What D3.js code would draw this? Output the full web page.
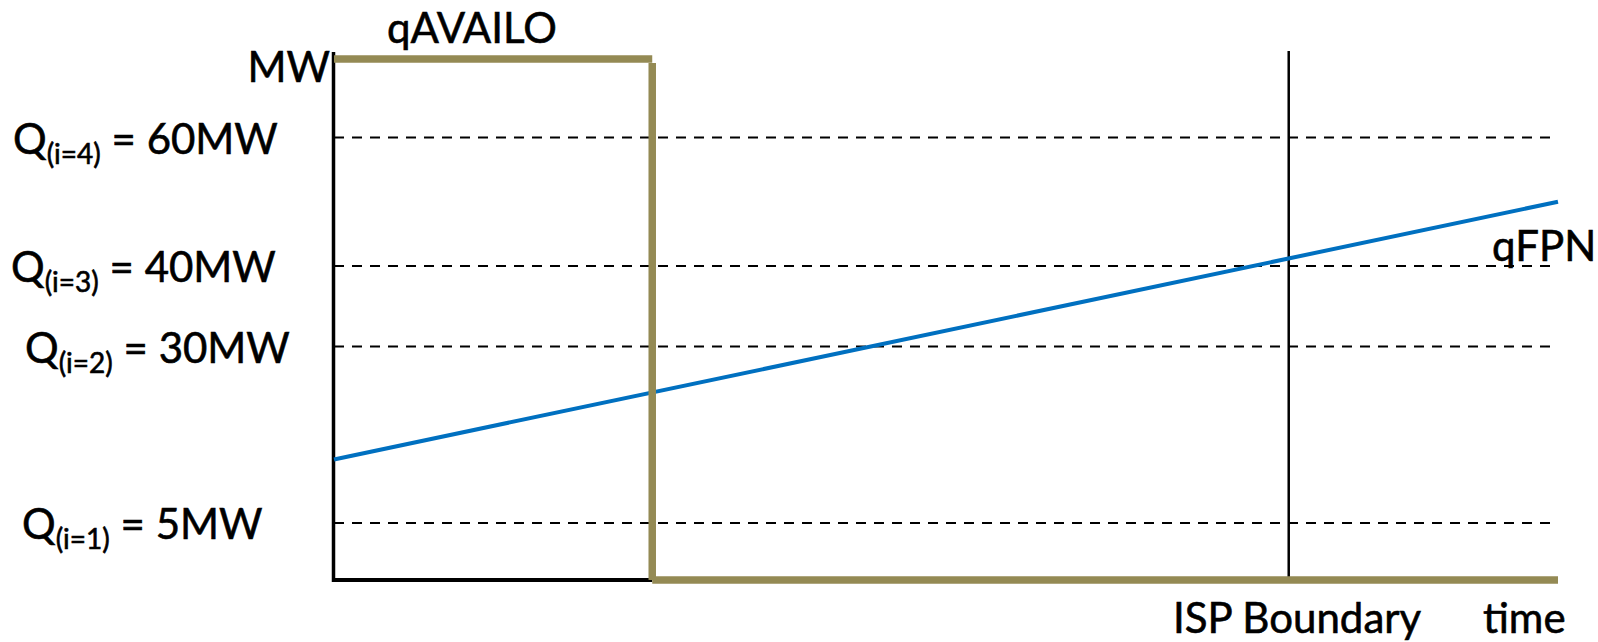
<!DOCTYPE html>
<html>
<head>
<meta charset="utf-8">
<script src="https://cdn.jsdelivr.net/npm/d3@7"></script>
<style>
  html, body { margin: 0; padding: 0; background: #fff; }
  svg { display: block; }
  text { font-family: Lato, "Open Sans", sans-serif; fill: #000; stroke: #000; stroke-width: 0.6px; }
</style>
</head>
<body>
<svg id="chart" width="1598" height="642"></svg>
<script>
// ---- data ----
const levelIndex = [4, 3, 2, 1];
const levelValues = [60, 40, 30, 5];          // MW
const levelLabelsMain = ["Q", "Q", "Q", "Q"];
const qFPNTime = [0, 100];
const qFPNValues = [14, 50];                  // MW
const qAvailTime = [0, 26, 26, 100];
const qAvailValues = [70, 70, 0, 0];          // MW (schematic)
const ispBoundaryTime = 78;
const timeDomain = [0, 100];

// ---- layout ----
const svg = d3.select("#chart");
const x = d3.scaleLinear().domain(timeDomain).range([334, 1558]);
// schematic (non-proportional) MW axis
const y = d3.scaleLinear()
  .domain([0, 5, 30, 40, 60, 70])
  .range([580, 523, 346.5, 266, 137.5, 59]);

const olive = "#948A54", blue = "#0070C0";

// dashed level lines
svg.append("g").selectAll("line").data(levelValues).join("line")
  .attr("x1", x(0)).attr("x2", x(100))
  .attr("y1", d => y(d)).attr("y2", d => y(d))
  .attr("stroke", "#000").attr("stroke-width", 2.2)
  .attr("stroke-dasharray", "10,8");

// ISP boundary
svg.append("line")
  .attr("x1", x(ispBoundaryTime)).attr("x2", x(ispBoundaryTime))
  .attr("y1", 51).attr("y2", y(0))
  .attr("stroke", "#000").attr("stroke-width", 2.5);

// axes (black)
svg.append("line")
  .attr("x1", x(0) - 0.5).attr("x2", x(0) - 0.5)
  .attr("y1", 52).attr("y2", y(0) + 2)
  .attr("stroke", "#000").attr("stroke-width", 3.5);
svg.append("line")
  .attr("x1", x(0) - 2).attr("x2", x(26))
  .attr("y1", y(0)).attr("y2", y(0))
  .attr("stroke", "#000").attr("stroke-width", 4);

// qFPN line
const fpn = qFPNTime.map((t, i) => [t, qFPNValues[i]]);
svg.append("path")
  .attr("d", d3.line().x(d => x(d[0])).y(d => y(d[1]))(fpn))
  .attr("fill", "none").attr("stroke", blue).attr("stroke-width", 4);

// qAVAILO step, drawn as separate segments (as in the original drawing)
const avail = qAvailTime.map((t, i) => [t, qAvailValues[i]]);
const segs = d3.pairs(avail);
svg.append("g").selectAll("line").data(segs).join("line")
  .attr("x1", d => x(d[0][0]))
  .attr("y1", d => d[0][0] === d[1][0] ? y(d[0][1]) + 4 : y(d[0][1]))
  .attr("x2", d => x(d[1][0]))
  .attr("y2", d => d[0][0] === d[1][0] ? y(d[1][1]) : y(d[1][1]))
  .attr("transform", d => d[0][0] === d[1][0] ? "translate(0,0)" : null)
  .attr("stroke", olive).attr("stroke-width", 7.5)
  .attr("stroke-linecap", "butt");

// ---- text ----
const fs = 42, subFs = 28;
svg.append("text").attr("x", 330).attr("y", 82)
  .attr("text-anchor", "end").attr("font-size", fs).text("MW");
svg.append("text").attr("x", 387).attr("y", 43)
  .attr("font-size", fs).text("qAVAILO");
svg.append("text").attr("x", 1492).attr("y", 261)
  .attr("font-size", fs).text("qFPN");
svg.append("text").attr("x", 1173).attr("y", 633)
  .attr("font-size", fs).text("ISP Boundary");
svg.append("text").attr("x", 1483).attr("y", 633)
  .attr("font-size", fs).text("time");

const labelLeft = [13, 11, 25, 22];
levelValues.forEach((v, i) => {
  const t = svg.append("text").attr("x", labelLeft[i]).attr("y", y(v) + 16)
    .attr("font-size", fs);
  t.append("tspan").text(levelLabelsMain[i]);
  t.append("tspan").attr("font-size", subFs).attr("dy", 10)
    .text("(i=" + levelIndex[i] + ")");
  t.append("tspan").attr("dy", -10).text(" = " + v + "MW");
});
</script>
</body>
</html>
